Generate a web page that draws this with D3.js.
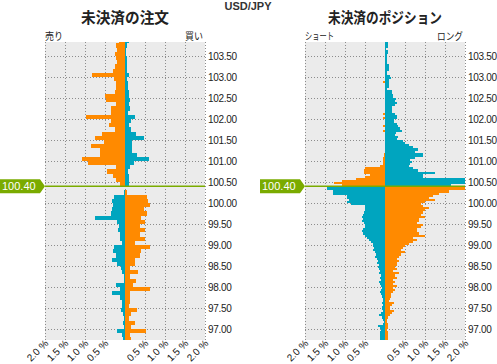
<!DOCTYPE html>
<html>
<head>
<meta charset="utf-8">
<script src="https://cdn.jsdelivr.net/npm/d3@7"></script>
<style>
body { margin: 0; background: #fff; }
svg text { font-family: "Liberation Sans", Arial, sans-serif; }
svg text.jp { font-family: "Noto Sans CJK JP", sans-serif; }
</style>
</head>
<body>
<svg id="chart" width="497" height="364"></svg>
<script>
// current rate
var currentRate = 100.40;

// price ticks, x ticks (%)
var yTicks = [97.0, 97.5, 98.0, 98.5, 99.0, 99.5, 100.0, 100.5, 101.0, 101.5, 102.0, 102.5, 103.0, 103.5];
var xTicks = [-2, -1.5, -1, -0.5, 0.5, 1, 1.5, 2];

// open orders, 0.1 yen buckets (sell on the left, buy on the right)
var orderLevels = [
  103.8, 103.7, 103.6, 103.5, 103.4, 103.3, 103.2, 103.1, 103.0, 102.9,
  102.8, 102.7, 102.6, 102.5, 102.4, 102.3, 102.2, 102.1, 102.0, 101.9,
  101.8, 101.7, 101.6, 101.5, 101.4, 101.3, 101.2, 101.1, 101.0, 100.9,
  100.8, 100.7, 100.6, 100.5, 100.4,
  100.3, 100.2, 100.1, 100.0, 99.9, 99.8, 99.7, 99.6, 99.5, 99.4,
  99.3, 99.2, 99.1, 99.0, 98.9, 98.8, 98.7, 98.6, 98.5, 98.4,
  98.3, 98.2, 98.1, 98.0, 97.9, 97.8, 97.7, 97.6, 97.5, 97.4,
  97.3, 97.2, 97.1, 97.0, 96.9, 96.8, 96.7
];
var orderSell = [
  0.15, 0.23, 0.20, 0.26, 0.23, 0.20, 0.26, 0.30, 0.83, 0.28,
  0.23, 0.23, 0.26, 0.51, 0.48, 0.23, 0.36, 0.34, 0.98, 0.36,
  0.40, 0.26, 0.58, 0.76, 0.53, 0.86, 0.63, 0.63, 1.08, 0.93,
  0.23, 0.46, 0.30, 0.23, 0.13,
  0.00, 0.02, 0.28, 0.33, 0.30, 0.33, 0.36, 0.76, 0.20, 0.15,
  0.18, 0.13, 0.12, 0.08, 0.28, 0.30, 0.23, 0.33, 0.20, 0.10,
  0.07, 0.03, 0.03, 0.23, 0.13, 0.32, 0.13, 0.08, 0.07, 0.10,
  0.04, 0.03, 0.04, 0.03, 0.19, 0.08, 0.04
];
var orderBuy = [
  0.09, 0.06, 0.03, 0.03, 0.04, 0.04, 0.04, 0.04, 0.09, 0.04,
  0.07, 0.07, 0.09, 0.09, 0.12, 0.09, 0.12, 0.08, 0.24, 0.14,
  0.10, 0.14, 0.28, 0.47, 0.17, 0.17, 0.17, 0.29, 0.59, 0.22,
  0.12, 0.07, 0.09, 0.09, 0.09,
  0.00, 0.06, 0.55, 0.58, 0.62, 0.47, 0.55, 0.41, 0.49, 0.37,
  0.49, 0.37, 0.49, 0.24, 0.62, 0.41, 0.37, 0.24, 0.24, 0.12,
  0.32, 0.12, 0.28, 0.20, 0.62, 0.12, 0.12, 0.12, 0.10, 0.29,
  0.14, 0.11, 0.25, 0.15, 0.52, 0.13, 0.14
];

// open positions, 0.05 yen buckets (short on the left, long on the right)
var positionLevels = [
  103.85, 103.80, 103.75, 103.70, 103.65, 103.60, 103.55, 103.50, 103.45, 103.40,
  103.35, 103.30, 103.25, 103.20, 103.15, 103.10, 103.05, 103.00, 102.95, 102.90,
  102.85, 102.80, 102.75, 102.70, 102.65, 102.60, 102.55, 102.50, 102.45, 102.40,
  102.35, 102.30, 102.25, 102.20, 102.15, 102.10, 102.05, 102.00, 101.95, 101.90,
  101.85, 101.80, 101.75, 101.70, 101.65, 101.60, 101.55, 101.50, 101.45, 101.40,
  101.35, 101.30, 101.25, 101.20, 101.15, 101.10, 101.05, 101.00, 100.95, 100.90,
  100.85, 100.80, 100.75, 100.70, 100.65, 100.60, 100.55, 100.50, 100.45, 100.40,
  100.35, 100.30, 100.25, 100.20, 100.15, 100.10, 100.05, 100.00, 99.95, 99.90,
  99.85, 99.80, 99.75, 99.70, 99.65, 99.60, 99.55, 99.50, 99.45, 99.40,
  99.35, 99.30, 99.25, 99.20, 99.15, 99.10, 99.05, 99.00, 98.95, 98.90,
  98.85, 98.80, 98.75, 98.70, 98.65, 98.60, 98.55, 98.50, 98.45, 98.40,
  98.35, 98.30, 98.25, 98.20, 98.15, 98.10, 98.05, 98.00, 97.95, 97.90,
  97.85, 97.80, 97.75, 97.70, 97.65, 97.60, 97.55, 97.50, 97.45, 97.40,
  97.35, 97.30, 97.25, 97.20, 97.15, 97.10, 97.05, 97.00, 96.95, 96.90,
  96.85, 96.80, 96.75, 96.70
];
var positionShort = [
  0, 0, 0, 0, 0, 0, 0, 0, 0, 0,
  0, 0, 0, 0, 0, 0, 0, 0, 0, 0,
  0.04, 0, 0, 0, 0, 0, 0, 0, 0, 0,
  0, 0, 0, 0, 0, 0.04, 0, 0.04, 0, 0,
  0, 0.04, 0, 0.04, 0, 0, 0, 0, 0, 0,
  0, 0, 0, 0, 0.03, 0.03, 0.05, 0.05, 0.05, 0.05,
  0.12, 0.50, 0.52, 0.52, 0.38, 0.50, 0.72, 1.08, 1.27, 1.08,
  1.46, 1.46, 1.29, 1.29, 0.96, 0.96, 0.90, 0.95, 0.85, 0.50,
  0.50, 0.50, 0.52, 0.55, 0.58, 0.55, 0.58, 0.52, 0.50, 0.50,
  0.55, 0.58, 0.56, 0.50, 0.45, 0.40, 0.35, 0.30, 0.30, 0.28,
  0.30, 0.25, 0.22, 0.25, 0.20, 0.18, 0.20, 0.15, 0.18, 0.15,
  0.12, 0.15, 0.10, 0.12, 0.10, 0.15, 0.12, 0.10, 0.08, 0.10,
  0.12, 0.10, 0.08, 0.06, 0.06, 0.08, 0.04, 0.08, 0.08, 0.06,
  0.11, 0.14, 0.08, 0.06, 0.03, 0.06, 0.17, 0.13, 0.11, 0.13,
  0.13, 0.13, 0.13, 0.13
];
var positionLong = [
  0, 0.07, 0.07, 0.07, 0.03, 0.07, 0.07, 0.06, 0.06, 0.06,
  0.04, 0.05, 0.10, 0.10, 0.10, 0.06, 0.06, 0.13, 0.15, 0.10,
  0.10, 0.10, 0.10, 0.05, 0.17, 0.17, 0.20, 0.21, 0.27, 0.25,
  0.31, 0.25, 0.17, 0.18, 0.18, 0.25, 0.29, 0.30, 0.22, 0.23,
  0.30, 0.33, 0.38, 0.42, 0.28, 0.25, 0.33, 0.30, 0.46, 0.50,
  0.60, 0.71, 0.83, 0.75, 0.96, 0.96, 0.75, 0.63, 0.67, 0.63,
  0.60, 0.70, 0.83, 1.25, 0.96, 0.96, 2.70, 2.70, 2.70, 1.65,
  2.70, 2.70, 1.60, 1.35, 1.20, 1.10, 1.25, 1.00, 0.90, 0.95,
  1.10, 1.00, 0.95, 0.90, 1.00, 0.85, 0.85, 0.80, 0.95, 0.90,
  0.80, 0.80, 0.85, 1.00, 0.70, 0.80, 0.70, 0.60, 0.50, 0.45,
  0.40, 0.50, 0.40, 0.35, 0.30, 0.35, 0.30, 0.30, 0.25, 0.30,
  0.20, 0.35, 0.25, 0.30, 0.20, 0.25, 0.20, 0.30, 0.20, 0.25,
  0.20, 0.15, 0.15, 0.12, 0.11, 0.23, 0.17, 0.13, 0.13, 0.23,
  0.17, 0.13, 0.08, 0.04, 0.06, 0.08, 0.08, 0.07, 0.06, 0.07,
  0.07, 0.07, 0.07, 0.07
];

var orange = '#ff8a00';
var teal = '#00a5bf';
var green = '#7aab00';
var plotTop = 42, plotBottom = 340;

var svg = d3.select('#chart');
var y = d3.scaleLinear().domain([97, 103.5]).range([329, 56]);

svg.append('text')
  .attr('x', 248).attr('y', 10)
  .attr('text-anchor', 'middle')
  .style('font-size', '11px').style('font-weight', 'bold')
  .attr('fill', '#333')
  .text('USD/JPY');

var panels = [
  {x0: 45, x1: 205, title: '未決済の注文', titleLen: 88, left: '売り', right: '買い',
   leftLen: 18, rightLen: 18,
   levels: orderLevels, lv: orderSell, rv: orderBuy, step: 0.1, flagX: 0},
  {x0: 305, x1: 465, title: '未決済のポジション', titleLen: 114, left: 'ショート', right: 'ロング',
   leftLen: 29, rightLen: 26,
   levels: positionLevels, lv: positionShort, rv: positionLong, step: 0.05, flagX: 260}
];

panels.forEach(function (p, pi) {
  var x = d3.scaleLinear().domain([-2, 2]).range([p.x0, p.x1]);
  var g = svg.append('g');

  g.append('text').attr('class', 'jp')
    .attr('x', (p.x0 + p.x1) / 2).attr('y', 23)
    .attr('text-anchor', 'middle')
    .attr('textLength', p.titleLen).attr('lengthAdjust', 'spacingAndGlyphs')
    .style('font-size', '15px').style('font-weight', 'bold')
    .attr('fill', '#222')
    .text(p.title);

  g.append('text').attr('class', 'jp')
    .attr('x', p.x0).attr('y', 40)
    .attr('textLength', p.leftLen).attr('lengthAdjust', 'spacingAndGlyphs')
    .style('font-size', '10px').attr('fill', '#222')
    .text(p.left);
  g.append('text').attr('class', 'jp')
    .attr('x', p.x1 - 2).attr('y', 40)
    .attr('text-anchor', 'end')
    .attr('textLength', p.rightLen).attr('lengthAdjust', 'spacingAndGlyphs')
    .style('font-size', '10px').attr('fill', '#222')
    .text(p.right);

  // plot background
  g.append('rect')
    .attr('x', p.x0).attr('y', plotTop)
    .attr('width', p.x1 - p.x0).attr('height', plotBottom - plotTop)
    .attr('fill', '#ebebeb');

  var clipId = 'clip' + pi;
  svg.append('clipPath').attr('id', clipId)
    .append('rect')
    .attr('x', p.x0).attr('y', plotTop)
    .attr('width', p.x1 - p.x0).attr('height', plotBottom - plotTop);

  // dotted grid
  g.selectAll('.vgrid')
    .data([-2, -1.5, -1, -0.5, 0, 0.5, 1, 1.5, 2])
    .enter().append('line')
    .attr('x1', function (d) { return Math.round(x(d)) + 0.5; })
    .attr('x2', function (d) { return Math.round(x(d)) + 0.5; })
    .attr('y1', plotTop).attr('y2', plotBottom)
    .attr('stroke', '#8c8c8c').attr('stroke-dasharray', '1,2');
  g.selectAll('.hgrid')
    .data(yTicks)
    .enter().append('line')
    .attr('x1', p.x0).attr('x2', p.x1)
    .attr('y1', function (d) { return Math.round(y(d)) + 0.5; })
    .attr('y2', function (d) { return Math.round(y(d)) + 0.5; })
    .attr('stroke', '#8c8c8c').attr('stroke-dasharray', '1,2');

  // bars, snapped to whole pixels so rows meet without seams
  var bars = g.append('g').attr('clip-path', 'url(#' + clipId + ')')
    .attr('shape-rendering', 'crispEdges');
  p.levels.forEach(function (lvl, i) {
    var above = lvl >= currentRate - 1e-9;
    var top = Math.round(y(lvl + p.step)), h = Math.round(y(lvl)) - top;
    var xl = Math.round(x(-p.lv[i])), xc = Math.round(x(0)), xr = Math.round(x(p.rv[i]));
    bars.append('rect')
      .attr('x', xl).attr('y', top)
      .attr('width', xc - xl).attr('height', h)
      .attr('fill', above ? orange : teal);
    bars.append('rect')
      .attr('x', xc).attr('y', top)
      .attr('width', xr - xc).attr('height', h)
      .attr('fill', above ? teal : orange);
  });

  // y labels
  g.selectAll('.ylab')
    .data(yTicks)
    .enter().append('text')
    .attr('x', p.x1 + 3)
    .attr('y', function (d) { return y(d) + 4; })
    .style('font-size', '10px').style('letter-spacing', '-0.3px')
    .attr('fill', '#222')
    .text(function (d) { return d.toFixed(2); });

  // x labels
  g.selectAll('.xlab')
    .data(xTicks)
    .enter().append('text')
    .attr('transform', function (d) {
      return 'translate(' + (x(d) + 4) + ',' + 344 + ') rotate(-45)';
    })
    .attr('text-anchor', 'end')
    .style('font-size', '10px')
    .attr('fill', '#111')
    .text(function (d) { return Math.abs(d).toFixed(1) + ' %'; });

  // current rate
  var yr = y(currentRate);
  g.append('line')
    .attr('x1', p.x0).attr('x2', p.x1)
    .attr('y1', yr).attr('y2', yr)
    .attr('stroke', green).attr('stroke-width', 1.5);
  var fx = p.flagX;
  g.append('path')
    .attr('d', 'M' + fx + ',' + (yr - 7) + 'H' + (p.x0 - 5) + 'L' + p.x0 + ',' + yr +
               'L' + (p.x0 - 5) + ',' + (yr + 7) + 'H' + fx + 'Z')
    .attr('fill', green);
  g.append('text')
    .attr('x', fx + 2).attr('y', yr + 4)
    .style('font-size', '11px')
    .attr('fill', '#fff')
    .text(currentRate.toFixed(2));
});
</script>
</body>
</html>
